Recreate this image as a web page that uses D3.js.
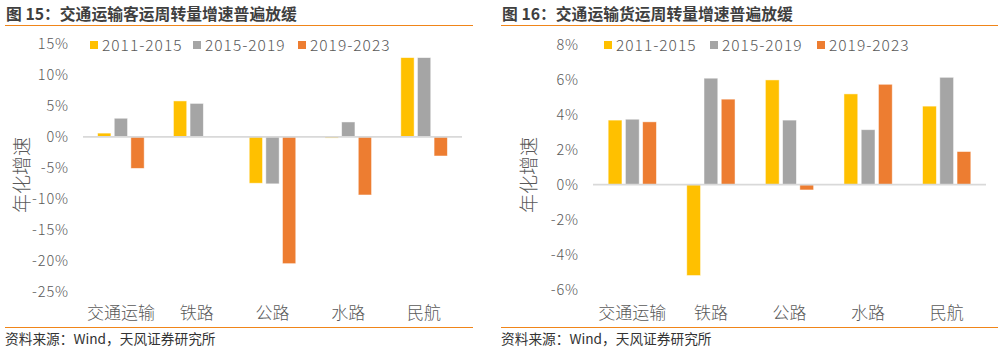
<!DOCTYPE html>
<html>
<head>
<meta charset="utf-8">
<script src="https://cdn.jsdelivr.net/npm/d3@7"></script>
<style>
  body { margin: 0; background: #fff; }
  svg { display: block; font-family: "Noto Sans CJK SC", "Noto Sans", sans-serif; }
</style>
</head>
<body>
<div id="container"></div>
<script>
// data
const categories = ["交通运输", "铁路", "公路", "水路", "民航"];
const seriesNames = ["2011-2015", "2015-2019", "2019-2023"];
const colors = ["#FFC000", "#A5A5A5", "#ED7D31"];

// 图15 客运周转量 年化增速 (%)
const passenger2011 = [0.6, 5.8, -7.5, -0.2, 12.8];
const passenger2015 = [3.0, 5.4, -7.6, 2.4, 12.8];
const passenger2019 = [-5.1, 0.1, -20.5, -9.4, -3.1];
const passengerTicks = [15, 10, 5, 0, -5, -10, -15, -20, -25];

// 图16 货运周转量 年化增速 (%)
const freight2011 = [3.7, -5.2, 6.0, 5.2, 4.5];
const freight2015 = [3.75, 6.1, 3.7, 3.15, 6.15];
const freight2019 = [3.6, 4.9, -0.3, 5.75, 1.9];
const freightTicks = [8, 6, 4, 2, 0, -2, -4, -6];

const width = 1003, height = 351;

const svg = d3.select("#container")
  .append("svg")
  .attr("width", width)
  .attr("height", height);

function panel(opt) {
  const g = svg.append("g");

  // title + rules
  g.append("text")
    .attr("x", opt.left + 1)
    .attr("y", 19.5)
    .attr("font-size", 15.8)
    .attr("font-weight", "bold")
    .attr("fill", "#3F3F3F")
    .text(opt.title);
  g.append("line")
    .attr("x1", opt.left).attr("x2", opt.right)
    .attr("y1", 25.5).attr("y2", 25.5)
    .attr("stroke", "#F08519").attr("stroke-width", 1.2);
  g.append("line")
    .attr("x1", opt.left).attr("x2", opt.right)
    .attr("y1", 327.5).attr("y2", 327.5)
    .attr("stroke", "#F08519").attr("stroke-width", 1.2);
  g.append("text")
    .attr("x", opt.left)
    .attr("y", 343.5)
    .attr("font-size", 13.7)
    .attr("fill", "#333")
    .text("资料来源：Wind，天风证券研究所");

  const y = d3.scaleLinear()
    .domain(opt.yDomain)
    .range(opt.yRange);

  const x0 = d3.scaleBand()
    .domain(categories)
    .range(opt.xRange)
    .padding(0);

  const x1 = d3.scaleBand()
    .domain(seriesNames)
    .range([0, x0.bandwidth()])
    .paddingInner(0.2)
    .paddingOuter(0.88);

  // y tick labels
  g.selectAll("text.tick")
    .data(opt.ticks)
    .join("text")
    .attr("class", "tick")
    .attr("x", opt.tickX)
    .attr("y", d => y(d))
    .attr("dy", "0.36em")
    .attr("text-anchor", "end")
    .attr("font-size", 14.5)
    .attr("letter-spacing", 0.9)
    .attr("font-weight", 300)
    .attr("fill", "#595959")
    .text(d => d + "%");

  // y title
  g.append("text")
    .attr("transform", `translate(${opt.titleX},175) rotate(-90)`)
    .attr("text-anchor", "middle")
    .attr("dy", "0.35em")
    .attr("font-size", 19)
    .attr("font-weight", 300)
    .attr("fill", "#595959")
    .text("年化增速");

  // bars
  const rows = [];
  categories.forEach((c, i) => {
    opt.series.forEach((s, j) => {
      rows.push({ cat: c, name: seriesNames[j], v: s[i], color: colors[j] });
    });
  });

  g.selectAll("rect.bar")
    .data(rows)
    .join("rect")
    .attr("class", "bar")
    .attr("x", d => x0(d.cat) + x1(d.name))
    .attr("width", x1.bandwidth())
    .attr("y", d => y(Math.max(0, d.v)))
    .attr("height", d => Math.abs(y(d.v) - y(0)))
    .attr("fill", d => d.color)
    .attr("stroke", "#fff")
    .attr("stroke-opacity", 0.6)
    .attr("stroke-width", 0.8);

  // zero line
  g.append("line")
    .attr("x1", opt.xRange[0]).attr("x2", opt.xRange[1])
    .attr("y1", y(0)).attr("y2", y(0))
    .attr("stroke", "#D9D9D9").attr("stroke-width", 1.8);

  // category labels
  g.selectAll("text.cat")
    .data(categories)
    .join("text")
    .attr("class", "cat")
    .attr("x", d => x0(d) + x0.bandwidth() / 2)
    .attr("y", 313)
    .attr("dy", "0.35em")
    .attr("text-anchor", "middle")
    .attr("font-size", 17)
    .attr("font-weight", 300)
    .attr("fill", "#595959")
    .text(d => d);

  // legend
  const lg = g.selectAll("g.leg")
    .data(seriesNames)
    .join("g")
    .attr("class", "leg")
    .attr("transform", (d, i) => `translate(${opt.legendX[i]},45)`);
  lg.append("rect")
    .attr("x", 0).attr("y", -4)
    .attr("width", 8).attr("height", 8)
    .attr("fill", (d, i) => colors[i]);
  lg.append("text")
    .attr("x", 12)
    .attr("y", 0)
    .attr("dy", "0.36em")
    .attr("font-size", 15.5)
    .attr("letter-spacing", 1)
    .attr("font-weight", 300)
    .attr("fill", "#595959")
    .text(d => d);
}

panel({
  title: "图 15：交通运输客运周转量增速普遍放缓",
  left: 5, right: 473,
  yDomain: [-25, 15], yRange: [291.5, 44],
  xRange: [83, 462],
  ticks: passengerTicks,
  tickX: 69,
  titleX: 22,
  series: [passenger2011, passenger2015, passenger2019],
  legendX: [90, 193, 298]
});

panel({
  title: "图 16：交通运输货运周转量增速普遍放缓",
  left: 501, right: 998,
  yDomain: [-6, 8], yRange: [289.5, 45],
  xRange: [593, 986],
  ticks: freightTicks,
  tickX: 579,
  titleX: 529,
  series: [freight2011, freight2015, freight2019],
  legendX: [604, 710, 817]
});
</script>
</body>
</html>
